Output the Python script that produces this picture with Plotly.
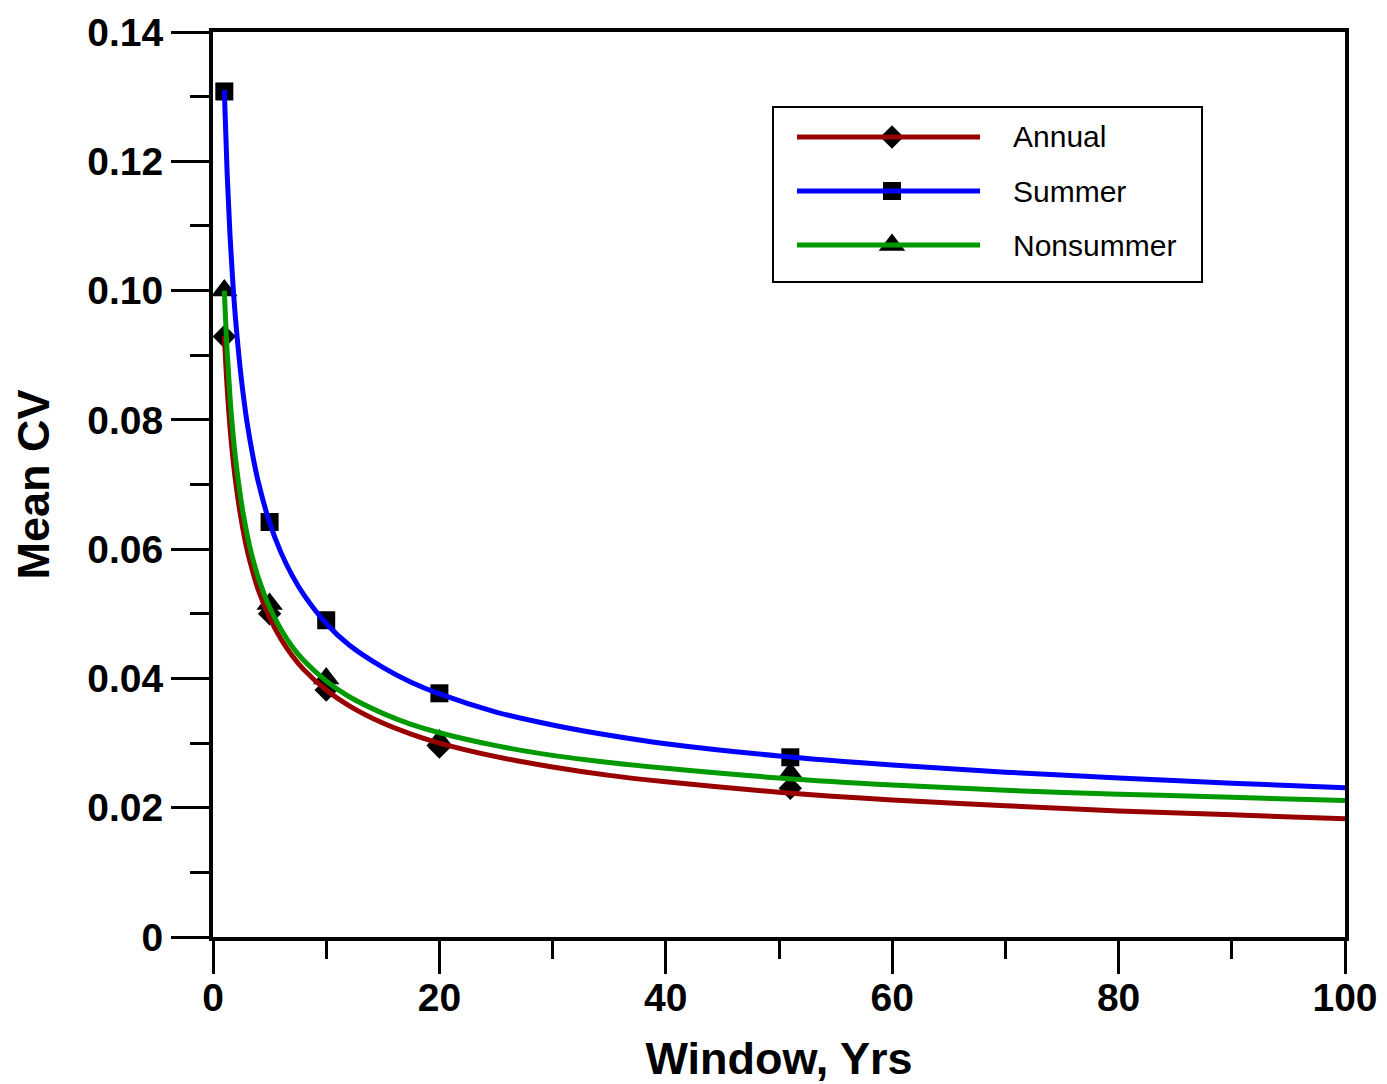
import plotly.graph_objects as go

# ---------------- data ----------------
# measured points
window_pts = [1, 5, 10, 20, 51]
annual_pts = [0.0929, 0.0500, 0.0382, 0.0294, 0.0230]
summer_pts = [0.1308, 0.0642, 0.0490, 0.0377, 0.0278]
nonsummer_pts = [0.1000, 0.0515, 0.0400, 0.0304, 0.0253]

# fitted curves
curve_x = [1, 1.25, 1.5, 1.75, 2, 2.5, 3, 3.5, 4, 5, 6, 7, 8, 10, 12, 15, 17.5, 20, 25, 30, 35,
           40, 50, 60, 70, 80, 90, 100]
annual_curve = [0.0930, 0.0850, 0.0789, 0.0742, 0.0704, 0.0645, 0.0600, 0.0566, 0.0537, 0.0494,
                0.0461, 0.0435, 0.0414, 0.0382, 0.0358, 0.0331, 0.0314, 0.0300, 0.0279, 0.0263,
                0.0250, 0.0240, 0.0224, 0.0212, 0.0203, 0.0195, 0.0189, 0.0183]
summer_curve = [0.1310, 0.1181, 0.1086, 0.1013, 0.0954, 0.0864, 0.0797, 0.0746, 0.0704, 0.0641,
                0.0595, 0.0559, 0.0530, 0.0485, 0.0452, 0.0417, 0.0394, 0.0376, 0.0348, 0.0328,
                0.0312, 0.0299, 0.0280, 0.0266, 0.0255, 0.0246, 0.0238, 0.0231]
nonsummer_curve = [0.1000, 0.0906, 0.0836, 0.0782, 0.0739, 0.0673, 0.0624, 0.0586, 0.0556, 0.0510,
                   0.0476, 0.0449, 0.0428, 0.0396, 0.0372, 0.0346, 0.0329, 0.0316, 0.0296, 0.0281,
                   0.0270, 0.0261, 0.0246, 0.0235, 0.0227, 0.0221, 0.0216, 0.0211]

series_names = ["Annual", "Summer", "Nonsummer"]
y_tickvals = [0, 0.02, 0.04, 0.06, 0.08, 0.10, 0.12, 0.14]
y_ticktext = ["0", "0.02", "0.04", "0.06", "0.08", "0.10", "0.12", "0.14"]
x_tickvals = [0, 20, 40, 60, 80, 100]

# ---------------- styles ----------------
colors = ["#990000", "#0000ff", "#009900"]
symbols = ["diamond", "square", "triangle-up"]
msizes = [18, 18, 23]
FONT = "Liberation Sans, Arial, sans-serif"

fig = go.Figure()

pts = [annual_pts, summer_pts, nonsummer_pts]
curves = [annual_curve, summer_curve, nonsummer_curve]

# markers first, lines on top
for name, p, sym, ms in zip(series_names, pts, symbols, msizes):
    fig.add_trace(go.Scatter(x=window_pts, y=p, mode="markers", name=name,
                             marker=dict(symbol=sym, size=ms, color="black"),
                             showlegend=False, cliponaxis=False))
for name, c, col in zip(series_names, curves, colors):
    fig.add_trace(go.Scatter(x=curve_x, y=c, mode="lines", name=name,
                             line=dict(color=col, width=5, shape="spline", smoothing=1.0),
                             showlegend=False))

# ---------------- custom legend (layout, paper-like overlay axes) ----------------
leg_rows = [0.884, 0.8243, 0.7646]
leg_x0, leg_x1, leg_xm, leg_tx = 0.5159, 0.6776, 0.5998, 0.7047
for name, y, sym, ms in zip(series_names, leg_rows, symbols, msizes):
    fig.add_trace(go.Scatter(x=[leg_xm], y=[y], mode="markers", xaxis="x2", yaxis="y2",
                             marker=dict(symbol=sym, size=ms, color="black"),
                             showlegend=False, hoverinfo="skip"))
for name, y, col in zip(series_names, leg_rows, colors):
    fig.add_trace(go.Scatter(x=[leg_x0, leg_x1], y=[y, y], mode="lines", xaxis="x2", yaxis="y2",
                             line=dict(color=col, width=5), showlegend=False, hoverinfo="skip"))
    fig.add_annotation(x=leg_tx, y=y, xref="paper", yref="paper", text=name,
                       showarrow=False, xanchor="left", yanchor="middle",
                       font=dict(family=FONT, size=30, color="black"))
fig.add_shape(type="rect", xref="paper", yref="paper", x0=0.4947, x1=0.8737, y0=0.7238, y1=0.9171,
              line=dict(color="black", width=2), fillcolor="rgba(0,0,0,0)")

tickfont = dict(family=FONT, size=39, color="black", weight="bold")
titlefont = dict(family=FONT, size=45, color="black", weight="bold")

fig.update_layout(
    width=1387, height=1084,
    paper_bgcolor="white", plot_bgcolor="white",
    margin=dict(l=213, r=42, t=32, b=147),
    showlegend=False,
    xaxis=dict(range=[0, 100], tickvals=x_tickvals, ticks="outside", ticklen=33, tickwidth=3,
               tickcolor="black", showline=True, linewidth=4, linecolor="black", mirror=True,
               showgrid=False, zeroline=False, tickfont=tickfont, ticklabelstandoff=-10,
               automargin=False,
               minor=dict(dtick=10, ticks="outside", ticklen=18, tickwidth=3, tickcolor="black",
                          showgrid=False),
               title=dict(text="Window, Yrs", font=titlefont, standoff=40)),
    yaxis=dict(range=[0, 0.14], tickvals=y_tickvals, ticktext=y_ticktext, ticks="outside",
               ticklen=38, tickwidth=3, tickcolor="black", showline=True, linewidth=4,
               linecolor="black", mirror=True, showgrid=False, zeroline=False, tickfont=tickfont,
               ticklabelstandoff=0, automargin=False,
               minor=dict(dtick=0.01, ticks="outside", ticklen=19, tickwidth=3, tickcolor="black",
                          showgrid=False),
               title=dict(text="Mean CV", font=titlefont, standoff=25)),
    xaxis2=dict(range=[0, 1], overlaying="x", visible=False, fixedrange=True),
    yaxis2=dict(range=[0, 1], overlaying="y", visible=False, fixedrange=True),
)

fig.write_html("out.html")
